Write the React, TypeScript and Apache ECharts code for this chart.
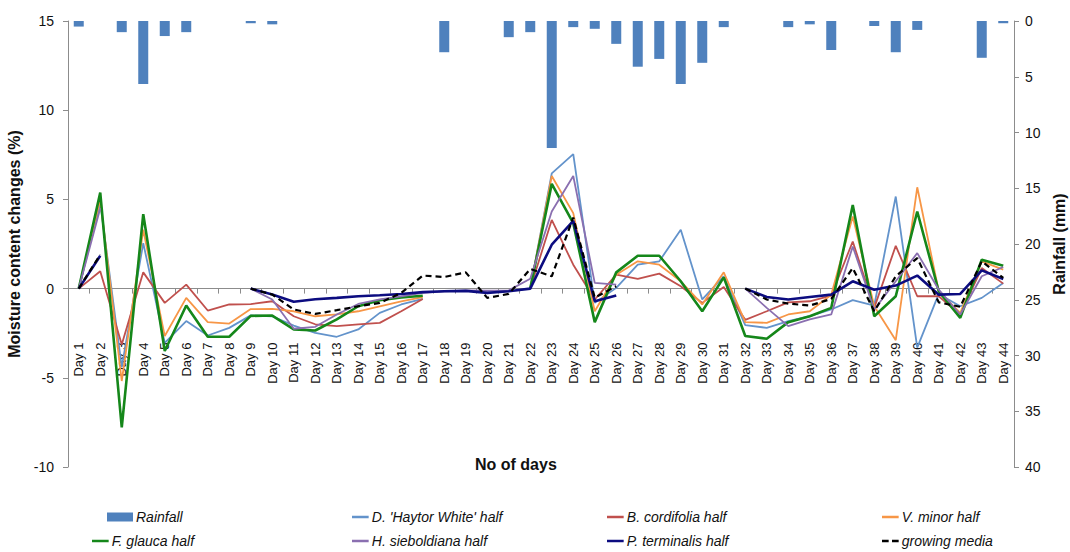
import React, { useEffect, useRef } from "react";
import * as echarts from "echarts";

const days = [
  "Day 1", "Day 2", "Day 3", "Day 4", "Day 5", "Day 6", "Day 7", "Day 8", "Day 9", "Day 10",
  "Day 11", "Day 12", "Day 13", "Day 14", "Day 15", "Day 16", "Day 17", "Day 18", "Day 19", "Day 20",
  "Day 21", "Day 22", "Day 23", "Day 24", "Day 25", "Day 26", "Day 27", "Day 28", "Day 29", "Day 30",
  "Day 31", "Day 32", "Day 33", "Day 34", "Day 35", "Day 36", "Day 37", "Day 38", "Day 39", "Day 40",
  "Day 41", "Day 42", "Day 43", "Day 44",
];

const rainfall = [
  0.5, 0, 1.0, 5.65, 1.35, 1.0, 0, 0, 0.2, 0.3,
  0, 0, 0, 0, 0, 0, 0, 2.8, 0, 0,
  1.45, 1.0, 11.4, 0.55, 0.7, 2.05, 4.1, 3.4, 5.65, 3.75,
  0.55, 0, 0, 0.55, 0.3, 2.6, 0, 0.45, 2.8, 0.8,
  0, 0, 3.3, 0.2,
];

const haytor = [
  0, 4.8, -4.4, 2.55, -3.04, -1.82, -2.63, -2.2, -1.5, -1.55,
  -2.07, -2.48, -2.7, -2.29, -1.36, -0.89, -0.58, null, null, null,
  null, 0, 6.46, 7.54, -0.8, 0.04, 1.34, 1.53, 3.3, -0.61,
  0.69, -2.05, -2.2, -1.82, -1.55, -1.17, -0.65, -0.95, 5.16, -3.31,
  -0.3, -0.99, -0.52, 0.32,
];

const cordifolia = [
  0, 0.97, -3.13, 0.91, -0.8, 0.22, -1.23, -0.89, -0.87, -0.71,
  -1.55, -2.0, -2.1, -2.0, -1.92, -1.27, -0.58, null, null, null,
  null, 0, 3.85, 1.34, -0.61, 0.78, 0.54, 0.84, 0.13, -0.8,
  0.09, -1.75, -1.27, -0.77, -0.71, -0.39, 2.64, -1.08, 2.4, -0.43,
  -0.43, -1.45, 1.15, 0.28,
];

const minor = [
  0, 5.0, -5.18, 3.3, -2.66, -0.52, -1.88, -1.96, -1.15, -1.14,
  -1.27, -1.55, -1.45, -1.27, -0.99, -0.71, -0.48, null, null, null,
  null, 0, 6.31, 4.23, -1.27, 0.78, 1.53, 1.34, 0.41, -0.89,
  0.91, -1.88, -1.92, -1.45, -1.27, -0.34, 4.04, -0.99, -2.89, 5.68,
  -0.15, -1.36, 1.53, 1.06,
];

const glauca = [
  0, 5.38, -7.78, 4.17, -3.5, -0.95, -2.7, -2.7, -1.53, -1.51,
  -2.29, -2.35, -1.73, -0.99, -0.65, -0.5, -0.4, null, null, null,
  null, 0, 5.87, 3.67, -1.88, 0.91, 1.84, 1.84, 0.41, -1.27,
  0.63, -2.66, -2.81, -1.88, -1.55, -1.08, 4.69, -1.55, -0.43, 4.32,
  -0.15, -1.64, 1.62, 1.28,
];

const sieboldiana = [
  0, 4.5, null, null, null, null, null, null, 0, -0.61,
  -2.25, -2.14, -1.45, -0.86, -0.61, -0.43, -0.24, -0.15, -0.1, -0.12,
  -0.1, 0.55, 4.32, 6.31, 0.32, 0.22, null, null, null, null,
  null, 0, -1.08, -2.1, -1.73, -1.45, 2.36, -1.17, 0.41, 1.99,
  -0.06, -1.45, 0.69, 1.21,
];

const terminalis = [
  0, 1.84, null, null, null, null, null, null, 0, -0.33,
  -0.74, -0.6, -0.52, -0.43, -0.37, -0.3, -0.2, -0.15, -0.13, -0.24,
  -0.15, 0, 2.46, 3.8, -0.71, -0.38, null, null, null, null,
  null, 0, -0.47, -0.61, -0.47, -0.34, 0.41, -0.06, 0.17, 0.73,
  -0.34, -0.3, 1.02, 0.54,
];

const media = [
  0, 1.9, null, null, null, null, null, null, 0, -0.33,
  -1.17, -1.42, -1.21, -0.99, -0.8, -0.24, 0.73, 0.65, 0.91, -0.52,
  -0.3, 1.1, 0.69, 3.98, -0.51, 0.13, null, null, null, null,
  null, 0, -0.61, -0.84, -0.95, -0.58, 1.15, -1.27, 0.69, 1.71,
  -0.77, -1.02, 1.53, 0.6,
];

const leftTicks = { min: -10, max: 15, interval: 5 };
const rightTicks = { min: 0, max: 40, interval: 5 };

const FONT = "'Liberation Sans', Arial, sans-serif";
const AXIS_COLOR = "#8c8c8c";

const GRID_TOP = 21;
const GRID_BOTTOM = 85;
const CHART_H = 552;

const lineDefs = [
  { name: "D. 'Haytor White' half", data: haytor, color: "#6393cb", width: 1.8, dash: "solid" },
  { name: "B. cordifolia half", data: cordifolia, color: "#c0504d", width: 1.8, dash: "solid" },
  { name: "V. minor half", data: minor, color: "#f79646", width: 1.8, dash: "solid" },
  { name: "F. glauca half", data: glauca, color: "#15871a", width: 2.6, dash: "solid" },
  { name: "H. sieboldiana half", data: sieboldiana, color: "#8a6fb0", width: 1.8, dash: "solid" },
  { name: "P. terminalis half", data: terminalis, color: "#0c0c80", width: 2.6, dash: "solid" },
  { name: "growing media", data: media, color: "#000000", width: 2.2, dash: [6, 4] },
];

const LINE_ICON = "path://M0,0H20V3H0Z";
const DASH_ICON = "path://M0,0H8V3H0ZM12,0H20V3H12Z";

const legendPos = [
  { name: "Rainfall", left: 107, top: 510, icon: "rect", w: 26, h: 9 },
  { name: "D. 'Haytor White' half", left: 352, top: 510, icon: LINE_ICON, w: 17, h: 2.5 },
  { name: "B. cordifolia half", left: 607, top: 510, icon: LINE_ICON, w: 17, h: 2.5 },
  { name: "V. minor half", left: 882, top: 510, icon: LINE_ICON, w: 17, h: 2.5 },
  { name: "F. glauca half", left: 92, top: 534, icon: LINE_ICON, w: 17, h: 2.5 },
  { name: "H. sieboldiana half", left: 352, top: 534, icon: LINE_ICON, w: 17, h: 2.5 },
  { name: "P. terminalis half", left: 607, top: 534, icon: LINE_ICON, w: 17, h: 2.5 },
  { name: "growing media", left: 882, top: 534, icon: DASH_ICON, w: 17, h: 2.5 },
];

export default function App() {
  const ref = useRef<HTMLDivElement>(null);

  useEffect(() => {
    if (!ref.current) return;
    const chart = echarts.init(ref.current, undefined, { renderer: "svg" });

    const gridH = CHART_H - GRID_TOP - GRID_BOTTOM;
    const zeroY = GRID_TOP + (gridH * (leftTicks.max - 0)) / (leftTicks.max - leftTicks.min);
    const xOffset = -(CHART_H - GRID_BOTTOM - zeroY);

    const series: any[] = [
      {
        name: "Rainfall",
        type: "bar",
        yAxisIndex: 1,
        data: rainfall,
        barWidth: 10,
        itemStyle: { color: "#4f81bd" },
      },
      ...lineDefs.map((d) => ({
        name: d.name,
        type: "line",
        yAxisIndex: 0,
        data: d.data,
        symbol: "none",
        connectNulls: false,
        lineStyle: { color: d.color, width: d.width, type: d.dash },
        itemStyle: { color: d.color },
      })),
    ];

    chart.setOption({
      animation: false,
      backgroundColor: "#ffffff",
      textStyle: { fontFamily: FONT },
      grid: {
        left: 68,
        right: 56,
        top: GRID_TOP,
        bottom: GRID_BOTTOM,
        containLabel: false,
        outerBoundsMode: "none",
      },
      legend: legendPos.map((l) => ({
        data: [l.name],
        left: l.left,
        top: l.top,
        icon: l.icon,
        itemWidth: l.w,
        itemHeight: l.h,
        itemGap: 4,
        padding: 0,
        textStyle: {
          fontFamily: FONT,
          fontStyle: "italic",
          fontSize: 14,
          color: "#111",
          padding: [0, 0, 0, -2],
        },
      })),
      xAxis: {
        type: "category",
        data: days,
        boundaryGap: true,
        position: "bottom",
        offset: xOffset,
        axisLine: { onZero: false, lineStyle: { color: AXIS_COLOR, width: 1 } },
        axisTick: { show: true, length: 5, lineStyle: { color: AXIS_COLOR } },
        axisLabel: {
          rotate: 90,
          interval: 0,
          margin: 54,
          align: "right",
          verticalAlign: "middle",
          fontSize: 13,
          color: "#111",
          fontFamily: FONT,
        },
        splitLine: { show: false },
      },
      yAxis: [
        {
          type: "value",
          min: leftTicks.min,
          max: leftTicks.max,
          interval: leftTicks.interval,
          position: "left",
          axisLine: { show: true, lineStyle: { color: AXIS_COLOR, width: 1 } },
          axisTick: { show: true, length: 5, lineStyle: { color: AXIS_COLOR } },
          axisLabel: { fontSize: 14, color: "#111", margin: 14, fontFamily: FONT },
          splitLine: { show: false },
          name: "Moisture content changes (%)",
          nameLocation: "middle",
          nameGap: 42,
          nameRotate: 90,
          nameTextStyle: { fontSize: 16, fontWeight: "bold", color: "#111", fontFamily: FONT },
        },
        {
          type: "value",
          min: rightTicks.min,
          max: rightTicks.max,
          interval: rightTicks.interval,
          inverse: true,
          position: "right",
          axisLine: { show: true, lineStyle: { color: AXIS_COLOR, width: 1 } },
          axisTick: { show: true, length: 5, lineStyle: { color: AXIS_COLOR } },
          axisLabel: { fontSize: 14, color: "#111", margin: 11, fontFamily: FONT },
          splitLine: { show: false },
          name: "Rainfall (mm)",
          nameLocation: "middle",
          nameGap: 36,
          nameRotate: 90,
          nameTextStyle: { fontSize: 16, fontWeight: "bold", color: "#111", fontFamily: FONT },
        },
      ],
      graphic: [
        {
          type: "text",
          left: 475,
          top: 456,
          style: { text: "No of days", fontSize: 16, fontWeight: "bold", fill: "#111", fontFamily: FONT },
        },
      ],
      series,
    });

    return () => chart.dispose();
  }, []);

  return <div ref={ref} style={{ width: 1070, height: 552, position: "absolute", left: 0, top: 0 }} />;
}
